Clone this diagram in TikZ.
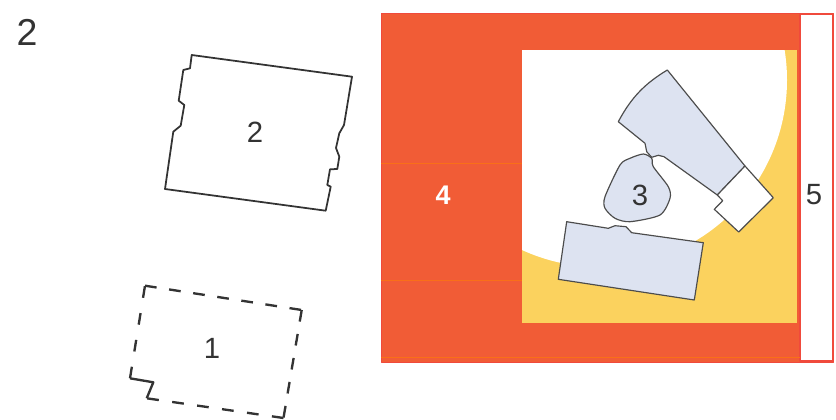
\documentclass[tikz,border=0pt]{standalone}
\usepackage{fontspec}
\setmainfont{Liberation Sans}
\usepackage{xcolor}
\definecolor{zonered}{HTML}{F15C36}
\definecolor{zoneedge}{HTML}{F04A3C}
\definecolor{zoneyellow}{HTML}{FBD25E}
\definecolor{partblue}{HTML}{DDE3F1}
\begin{document}
\begin{tikzpicture}[x=0.03cm,y=-0.03cm,line join=round,
 outline/.style={draw=black!80,line width=1.5pt},
 part/.style={draw=black!70,line width=1pt,fill=partblue},
 dashedge/.style={draw=black!80,line width=2pt},
 seam/.style={orange!55!zonered,line width=0.3pt},
 numlabel/.style={font=\fontsize{25}{25}\selectfont,text=black!80,inner sep=0pt}]
\useasboundingbox (0,0) rectangle (836,420);
% zones on the right
\fill[zonered] (381,13) rectangle (833,362);
\draw[zoneedge,line width=0.8pt] (381,13) rectangle (833,362);
\fill[white,draw=zoneedge,line width=1.2pt] (800,14) rectangle (833,361);
\draw[seam] (381,163)--(522,163) (381,280)--(522,280) (381,357)--(800,357);
\fill[zoneyellow] (522,50) rectangle (797,323);
\begin{scope}
\clip (522,50) rectangle (797,323);
\fill[white] (600,80) circle (187);
\end{scope}
% parts
\draw[part] (667.3,70)--(745,166)--(717.3,195)--(664,156.7)--(658.3,155.3)--(651.7,157.3)
 --(646.7,151.7)--(645,143.3)--(618.3,121.7) .. controls (632,96) and (646,83) .. (667.3,70)--cycle;
\draw[part,fill=white] (745,166)--(773.3,197.7)--(738.7,232)--(714.3,209.3)--(722.7,200.7)--(717.3,195)--cycle;
\draw[part] plot[smooth cycle,tension=0.45] coordinates {(643.3,154) (651.7,158.3) (653.3,166.7) (668.3,186.7)
 (670,198.3) (660,215) (630,221.7) (615,218.3) (605,208.3) (605,196.7) (620,165) (630,158.3)};
\draw[part] (566.7,221.7)--(608.3,228.3)--(615,225.7)--(626,226.7)--(631.7,232.7)--(703.3,242.7)
 --(694.3,300)--(558.3,279.3)--cycle;
% plots on the left
\draw[outline] (191.7,55)--(352,76.7)--(344,125)--(339.3,133.3)--(336,148)--(339.3,156.7)--(337.3,169)
 --(330,169.3)--(327.3,185)--(330.7,186.7)--(325.7,210.7)--(165,189)--(173.3,131.7)--(180.7,125.7)
 --(184.3,105)--(178.7,100.7)--(183.3,70)--(190,68.3)--cycle;
\coordinate (p1) at (145,285.7);
\coordinate (p2) at (301.7,310);
\coordinate (p3) at (283.5,418);
\coordinate (p4) at (146.7,398.3);
\coordinate (p5) at (153.3,382.3);
\coordinate (p6) at (130,378.3);
\foreach \from/\to/\gap in {p1/p2/10.8,p2/p3/10.75,p3/p4/11.5,p6/p1/13.2}
 \draw[dashedge,dash pattern=on 10pt off \gap pt] (\from)--(\to);
\draw[dashedge] (p4)--(p5)--(p6);
% labels
\node[numlabel,font=\fontsize{32}{32}\selectfont] (title) at (27,32) {2};
\node[numlabel] (lab2) at (255,132) {2};
\node[numlabel] (lab1) at (212,348) {1};
\node[numlabel] (lab3) at (640,195) {3};
\node[numlabel,text=white,font=\fontsize{23}{23}\selectfont\bfseries] (lab4) at (443,195) {4};
\node[numlabel] (lab5) at (814,195) {5};
\end{tikzpicture}
\end{document}
